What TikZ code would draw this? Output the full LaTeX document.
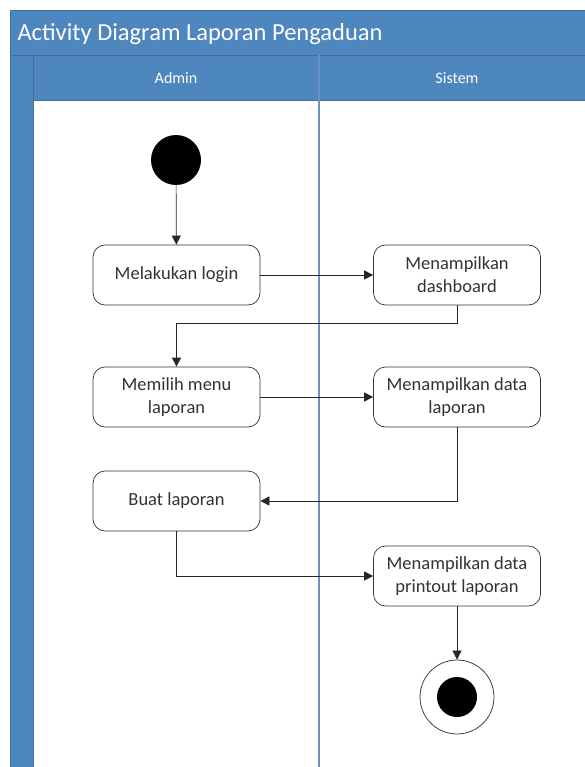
\documentclass[tikz,border=0pt]{standalone}
\usepackage{fontspec}
\setmainfont{Carlito}
\usetikzlibrary{arrows.meta}
\definecolor{lanefill}{HTML}{4E86BE}
\definecolor{laneedge}{HTML}{3E6F9E}
\definecolor{divider}{HTML}{6D92C2}
\tikzset{
  x=1pt, y=-1pt,
  act/.style={draw=black!80, line width=0.7pt, rounded corners=12pt, fill=white,
    minimum width=167pt, minimum height=60pt, align=center, inner sep=2pt,
    font=\fontsize{18.5}{23}\selectfont, text=black!80},
  flow/.style={draw=black!85, line width=0.7pt, -{Triangle[length=9pt,width=9pt]}},
  hdr/.style={text=white, font=\fontsize{16}{19}\selectfont}
}
\begin{document}
\begin{tikzpicture}
\useasboundingbox (0,0) rectangle (585,767);
% swimlane frame
\fill[lanefill] (10,10) rectangle (590,100);
\fill[lanefill] (10,10) rectangle (33,790);
\draw[laneedge, line width=0.8pt] (10,790) -- (10,10) -- (590,10);
\draw[laneedge, line width=0.8pt] (10,55) -- (590,55);
\draw[laneedge, line width=0.8pt] (33,55) -- (33,790);
\draw[laneedge, line width=0.8pt] (33,100) -- (590,100);
\fill[white] (34,101) rectangle (590,790);
\draw[divider, line width=1.2pt] (319,55) -- (319,790);
% titles
\node[anchor=west, text=white, font=\fontsize{24.5}{28}\selectfont] (title) at (14,34) {Activity Diagram Laporan Pengaduan};
\node[hdr] (admin) at (176,78) {Admin};
\node[hdr] (sistem) at (457,78) {Sistem};
% activities
\node[circle, fill=black, minimum size=50pt, inner sep=0pt] (start) at (176,160) {};
\node[act] (login) at (176.5,275) {Melakukan login};
\node[act] (dash) at (457,275) {Menampilkan\\dashboard};
\node[act] (menu) at (176.5,397) {Memilih menu\\laporan};
\node[act] (data) at (457,397) {Menampilkan data\\laporan};
\node[act] (buat) at (176.5,501) {Buat laporan};
\node[act] (print) at (457,576) {Menampilkan data\\printout laporan};
\node[circle, draw=black!75, line width=0.8pt, fill=white, minimum size=74pt, inner sep=0pt] (end) at (457,697) {};
\node[circle, fill=black, minimum size=40pt, inner sep=0pt] (endin) at (end.center) {};
% flows
\draw[flow] (start) -- (login);
\draw[flow] (login) -- (dash);
\draw[flow] (dash.south) -- ++(0,18) -| (menu.north);
\draw[flow] (menu) -- (data);
\draw[flow] (data.south) |- (buat.east);
\draw[flow] (buat.south) |- (print.west);
\draw[flow] (print) -- (end);
\end{tikzpicture}
\end{document}
